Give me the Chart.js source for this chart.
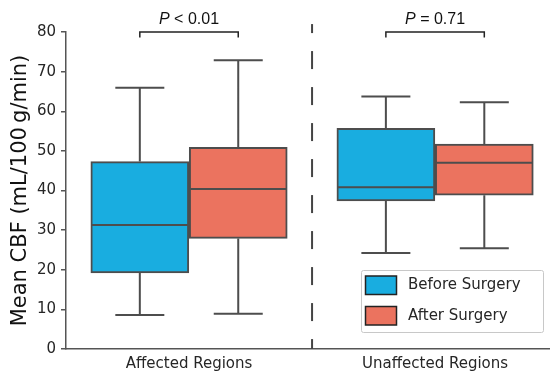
<!DOCTYPE html>
<html>
<head>
<meta charset="utf-8">
<script src="https://cdn.jsdelivr.net/npm/chart.js@4/dist/chart.umd.min.js"></script>
<style>
  body { margin: 0; background: #fff; }
  #wrap { width: 550px; height: 375px; }
</style>
</head>
<body>
<div id="wrap"><canvas id="cbfChart"></canvas></div>
<script>
// categories and groups
const categories = ['Affected Regions', 'Unaffected Regions'];
const groups = ['Before Surgery', 'After Surgery'];

// box plot stats (mL/100 g/min)
const beforeMin = [8.6, 24.2];
const beforeQ1 = [19.2, 37.4];
const beforeMedian = [31.3, 40.8];
const beforeQ3 = [47.3, 55.7];
const beforeMax = [65.9, 63.7];

const afterMin = [8.9, 25.4];
const afterQ1 = [27.9, 38.8];
const afterMedian = [40.4, 47.0];
const afterQ3 = [50.9, 51.7];
const afterMax = [72.9, 62.3];

// p values shown above each group
const pLabels = ['< 0.01', '= 0.71'];

const colors = ['#19ADE0', '#EB735F'];
const edge = '#4D4D4D';
const offset = 0.2;   // hue dodge on the category axis
const boxWidth = 98;  // px

const stats = [
  {min: beforeMin, q1: beforeQ1, med: beforeMedian, q3: beforeQ3, max: beforeMax, dx: -offset},
  {min: afterMin, q1: afterQ1, med: afterMedian, q3: afterQ3, max: afterMax, dx: offset}
];

function boxData(s){
  return categories.map((c, i) => ({x: i + s.dx, y: [s.q1[i], s.q3[i]]}));
}

// vertical whiskers, broken with null points
const whiskerPts = [];
const capPts = [];
const medianPts = [];
stats.forEach(s => {
  categories.forEach((c, i) => {
    const x = i + s.dx;
    whiskerPts.push({x: x, y: s.min[i]}, {x: x, y: s.q1[i]}, {x: x, y: null});
    whiskerPts.push({x: x, y: s.q3[i]}, {x: x, y: s.max[i]}, {x: x, y: null});
    capPts.push({x: x, y: s.min[i]}, {x: x, y: s.max[i]});
    medianPts.push({x: x, y: s.med[i]});
  });
});

const datasets = stats.map((s, k) => ({
  type: 'bar',
  label: groups[k],
  data: boxData(s),
  backgroundColor: colors[k],
  borderColor: edge,
  borderWidth: 2,
  borderSkipped: false,
  barThickness: boxWidth,
  grouped: false,
  order: 3
}));

datasets.push({
  type: 'line',
  label: 'whiskers',
  data: whiskerPts,
  borderColor: edge,
  borderWidth: 2,
  pointRadius: 0,
  spanGaps: false,
  tension: 0,
  order: 2
});
datasets.push({
  type: 'scatter',
  label: 'caps',
  data: capPts,
  pointStyle: 'line',
  pointRadius: boxWidth / 4,
  borderColor: edge,
  pointBorderWidth: 2,
  order: 1
});
datasets.push({
  type: 'scatter',
  label: 'medians',
  data: medianPts,
  pointStyle: 'line',
  pointRadius: boxWidth / 2 - 1,
  borderColor: edge,
  pointBorderWidth: 2,
  order: 0
});

// separator, p-value brackets and the framed legend
const extras = {
  id: 'extras',
  afterDraw(chart){
    const {ctx, chartArea} = chart;
    const xs = chart.scales.x, ys = chart.scales.y;
    ctx.save();

    // dashed separator between the two categories
    const sx = xs.getPixelForValue(0.5);
    ctx.strokeStyle = '#444';
    ctx.lineWidth = 2;
    ctx.setLineDash([18, 18]);
    ctx.lineDashOffset = 9;
    ctx.beginPath();
    ctx.moveTo(sx, ys.getPixelForValue(82));
    ctx.lineTo(sx, ys.getPixelForValue(0));
    ctx.stroke();
    ctx.setLineDash([]);

    // brackets + p text
    categories.forEach((c, i) => {
      const x1 = xs.getPixelForValue(i - offset);
      const x2 = xs.getPixelForValue(i + offset);
      const yb = ys.getPixelForValue(80);
      ctx.strokeStyle = '#222';
      ctx.lineWidth = 1.5;
      ctx.beginPath();
      ctx.moveTo(x1, yb + 5.5);
      ctx.lineTo(x1, yb);
      ctx.lineTo(x2, yb);
      ctx.lineTo(x2, yb + 5.5);
      ctx.stroke();

      const italic = 'italic 16px "Liberation Sans", Arial, sans-serif';
      const plain = '16px "Liberation Sans", Arial, sans-serif';
      ctx.font = italic;
      const wP = ctx.measureText('P').width;
      ctx.font = plain;
      const rest = ' ' + pLabels[i];
      const wR = ctx.measureText(rest).width;
      const start = (x1 + x2) / 2 - (wP + wR) / 2;
      ctx.fillStyle = '#111';
      ctx.textBaseline = 'alphabetic';
      ctx.textAlign = 'left';
      ctx.font = italic;
      ctx.fillText('P', start, yb - 8);
      ctx.font = plain;
      ctx.fillText(rest, start + wP, yb - 8);
    });

    // legend box
    const lx = chartArea.right - 189, ly = chartArea.bottom - 79;
    const lw = 182, lh = 62;
    ctx.fillStyle = 'rgba(255,255,255,0.85)';
    ctx.strokeStyle = '#c8c8c8';
    ctx.lineWidth = 1;
    ctx.beginPath();
    ctx.roundRect(lx + 0.5, ly + 0.5, lw, lh, 2);
    ctx.fill();
    ctx.stroke();
    ctx.font = '15px "DejaVu Sans", sans-serif';
    ctx.textBaseline = 'middle';
    groups.forEach((g, k) => {
      const ry = ly + 6 + k * 30.5;
      ctx.fillStyle = colors[k];
      ctx.fillRect(lx + 4.5, ry, 31, 18.5);
      ctx.strokeStyle = '#222';
      ctx.lineWidth = 1.5;
      ctx.strokeRect(lx + 4.5, ry, 31, 18.5);
      ctx.fillStyle = '#262626';
      ctx.fillText(g, lx + 47, ry + 9.5);
    });
    ctx.restore();
  }
};

new Chart(document.getElementById('cbfChart'), {
  data: {datasets: datasets},
  plugins: [extras],
  options: {
    responsive: true,
    maintainAspectRatio: false,
    animation: false,
    layout: {autoPadding: false, padding: {top: 32, right: 0, bottom: 0, left: 0}},
    plugins: {
      legend: {display: false},
      tooltip: {enabled: false}
    },
    scales: {
      x: {
        type: 'linear',
        offset: false,
        min: -0.5,
        max: 1.467,
        afterBuildTicks: (scale) => {
          scale.ticks = categories.map((c, i) => ({value: i}));
        },
        afterFit: (scale) => { scale.height = 26; },
        ticks: {
          autoSkip: false,
          maxRotation: 0,
          padding: 6,
          color: '#262626',
          font: {family: '"DejaVu Sans"', size: 15},
          callback: (v) => categories[v]
        },
        grid: {display: false, drawTicks: false, tickLength: 0, offset: false},
        border: {display: true, color: '#555', width: 1.5}
      },
      y: {
        min: 0,
        max: 80,
        afterFit: (scale) => { scale.width = 66; },
        ticks: {
          stepSize: 10,
          padding: 5,
          color: '#262626',
          font: {family: '"DejaVu Sans"', size: 15}
        },
        grid: {drawOnChartArea: false, drawTicks: true, tickLength: 5, color: '#555', lineWidth: 1.5},
        border: {display: true, color: '#555', width: 1.5},
        title: {
          display: true,
          text: 'Mean CBF (mL/100\u2009g/min)',
          color: '#111',
          font: {family: '"DejaVu Sans"', size: 21},
          padding: {top: 8, bottom: 0}
        }
      }
    }
  }
});
</script>
</body>
</html>
